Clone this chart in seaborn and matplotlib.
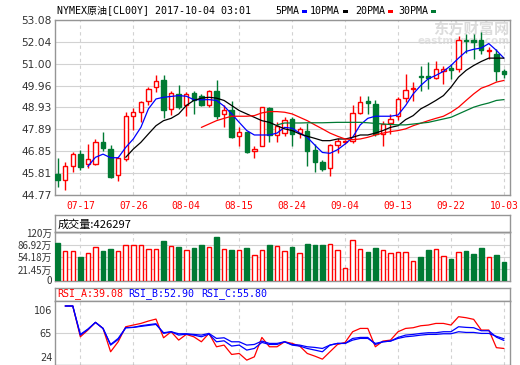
import numpy as np
import pandas as pd
import seaborn as sns
import matplotlib.pyplot as plt
from matplotlib.patches import Rectangle

# Données
dates = ["07-12", "07-13", "07-14", "07-17", "07-18", "07-19", "07-20", "07-21", "07-24", "07-25",
         "07-26", "07-27", "07-28", "07-31", "08-01", "08-02", "08-03", "08-04", "08-07", "08-08",
         "08-09", "08-10", "08-11", "08-14", "08-15", "08-16", "08-17", "08-18", "08-21", "08-22",
         "08-23", "08-24", "08-25", "08-28", "08-29", "08-30", "08-31", "09-01", "09-04", "09-05",
         "09-06", "09-07", "09-08", "09-11", "09-12", "09-13", "09-14", "09-15", "09-18", "09-19",
         "09-20", "09-21", "09-22", "09-25", "09-26", "09-27", "09-28", "09-29", "10-02", "10-03"]
tick_dates = ["07-17", "07-26", "08-04", "08-15", "08-24", "09-04", "09-13", "09-22", "10-03"]

opens = [45.76, 45.49, 46.13, 46.70, 46.22, 46.22, 47.27, 46.95, 45.70, 46.48,
         48.54, 48.73, 49.22, 49.89, 50.22, 48.84, 49.58, 49.02, 49.60, 49.48,
         49.06, 49.70, 48.60, 48.81, 47.56, 47.75, 46.86, 47.11, 48.89, 47.62,
         47.71, 48.38, 47.71, 47.79, 46.92, 46.35, 46.03, 47.14, 47.28, 47.35,
         48.67, 49.22, 49.10, 47.66, 48.18, 48.50, 49.37, 49.78, 50.42, 50.42,
         50.32, 50.66, 50.80, 50.76, 52.12, 52.13, 52.11, 51.60, 51.48, 50.65]
highs = [46.52, 46.32, 46.79, 46.92, 47.17, 47.43, 47.75, 47.14, 46.54, 48.70,
         48.89, 49.22, 49.89, 50.48, 50.45, 49.72, 49.97, 49.65, 49.73, 49.55,
         49.75, 50.22, 49.02, 49.21, 47.98, 47.78, 47.08, 48.96, 48.94, 48.26,
         48.46, 48.46, 47.98, 48.19, 47.19, 46.44, 47.19, 47.48, 47.40, 49.02,
         49.46, 49.46, 49.30, 48.30, 48.62, 49.41, 50.53, 50.13, 50.89, 51.10,
         51.11, 50.89, 51.00, 52.30, 52.40, 52.43, 52.50, 51.80, 51.69, 50.76]
lows = [45.16, 45.01, 45.84, 45.95, 46.05, 46.20, 46.86, 45.59, 45.44, 46.38,
        47.87, 48.25, 49.02, 49.65, 48.41, 48.55, 48.86, 48.54, 48.62, 48.99,
        48.94, 48.38, 47.98, 47.49, 47.08, 46.75, 46.51, 47.08, 47.27, 47.27,
        47.59, 47.08, 47.46, 46.16, 45.84, 45.92, 45.65, 46.76, 47.20, 47.22,
        48.62, 48.62, 47.56, 47.08, 47.67, 48.35, 49.18, 49.21, 49.73, 49.81,
        50.29, 50.05, 50.29, 50.61, 51.52, 51.24, 51.48, 51.24, 50.16, 50.32]
closes = [45.49, 46.13, 46.70, 46.08, 46.48, 47.27, 46.98, 45.62, 46.51, 48.54,
          48.73, 49.18, 49.78, 50.16, 48.83, 49.60, 48.95, 49.57, 49.28, 49.02,
          49.71, 48.54, 48.81, 47.53, 47.75, 46.83, 46.95, 48.94, 47.62, 48.04,
          48.35, 47.67, 47.91, 46.86, 46.35, 46.00, 47.14, 47.32, 47.32, 48.67,
          49.18, 49.16, 47.65, 48.12, 48.38, 49.34, 49.76, 49.84, 50.37, 50.32,
          50.76, 50.75, 50.72, 52.11, 52.08, 52.05, 51.64, 51.66, 50.64, 50.51]

nan = np.nan
ma5 = [nan] * 4 + [46.13, 46.56, 46.71, 46.54, 46.54, 47.03, 47.43, 47.98, 48.86, 49.33, 49.41,
                   49.45, 49.49, 49.46, 49.30, 49.29, 49.30, 49.26, 48.99, 48.62, 48.22, 47.83, 47.62, 47.62, 47.62, 47.71,
                   47.98, 47.94, 47.71, 47.51, 47.14, 46.79, 46.75, 46.92, 47.19, 47.51, 48.10, 48.41, 48.51, 48.51, 48.51,
                   48.57, 49.02, 49.57, 49.97, 50.29, 50.45, 50.64, 50.92, 51.27, 51.59, 51.69, 51.75, 51.96, 51.64, 51.27]
ma10 = [nan] * 9 + [46.56, 46.95, 47.27, 47.67, 48.06, 48.30,
                    48.41, 48.62, 49.02, 49.26, 49.37, 49.41, 49.37, 49.26, 49.02, 48.78, 48.62, 48.46, 48.30, 48.22, 48.06,
                    47.91, 47.83, 47.67, 47.56, 47.46, 47.35, 47.35, 47.43, 47.43, 47.51, 47.62, 47.62, 47.71, 47.83, 47.98,
                    48.06, 48.35, 48.54, 48.86, 49.05, 49.26, 49.49, 49.89, 50.37, 50.69, 50.92, 51.11, 51.27, 51.27, 51.27]
ma20 = [nan] * 19 + [47.98, 48.14, 48.30, 48.41, 48.51, 48.51, 48.51, 48.54, 48.67, 48.73, 48.73,
                     48.70, 48.62, 48.46, 48.30, 48.10, 47.91, 47.71, 47.56, 47.43, 47.40, 47.43, 47.51, 47.62, 47.71, 47.78,
                     47.83, 47.91, 48.06, 48.18, 48.30, 48.41, 48.51, 48.70, 48.94, 49.26, 49.57, 49.84, 49.97, 50.13, 50.21]
ma30 = [nan] * 29 + [48.10, 48.19, 48.19, 48.19, 48.20, 48.20, 48.20, 48.21, 48.22, 48.22, 48.22, 48.22, 48.20, 48.17, 48.14, 48.12,
                     48.10, 48.10, 48.14, 48.18, 48.22, 48.30, 48.38, 48.46, 48.62, 48.78, 48.94, 49.05, 49.14, 49.26, 49.30]

# Volume en 万
volumes = [92.2, 69.8, 69.8, 54.6, 65.4, 80.6, 70.7, 76.1, 69.8, 86.0,
           86.0, 86.0, 75.2, 75.2, 97.6, 84.2, 81.5, 72.5, 78.8, 86.9,
           80.6, 108.4, 75.2, 73.4, 73.4, 78.8, 60.0, 72.5, 86.9, 83.3,
           69.8, 81.5, 64.5, 89.6, 86.9, 86.9, 88.7, 72.5, 24.1, 99.4,
           75.2, 68.0, 78.8, 72.5, 65.4, 67.2, 67.2, 42.9, 54.6, 73.4,
           75.2, 56.4, 49.2, 67.2, 70.7, 63.6, 78.8, 53.7, 60.0, 42.6297]

rsi_a = [nan, 112.2, 112.2, 59.2, 70.8, 84.0, 73.6, 33.4, 50.6, 76.5, 79.4, 82.2, 86.3, 89.7, 57.5,
         67.9, 53.5, 63.3, 59.2, 50.6, 65.0, 42.0, 44.9, 28.8, 30.5, 19.0, 24.7,
         58.1, 42.0, 42.0, 50.6, 47.8, 43.2, 30.5, 25.9, 20.7, 33.4, 46.0, 49.5, 67.9, 73.6, 73.6,
         42.0, 51.8, 53.5, 67.9, 73.6, 74.8, 78.2, 79.4, 82.2, 82.2, 79.4, 93.8, 92.0, 89.2, 70.8, 70.8, 40.5, 39.08]
rsi_b = [nan, 112.2, 112.2, 62.1, 71.9, 84.0, 73.6, 44.9, 54.6, 74.8, 75.4, 78.2, 80.0, 81.7, 65.0,
         67.9, 62.1, 63.8, 62.1, 59.2, 63.8, 50.6, 52.3, 43.2, 44.9, 36.3, 39.1,
         49.5, 46.0, 46.0, 50.6, 44.9, 43.2, 39.1, 36.3, 33.4, 44.9, 47.8, 47.8, 56.4, 58.1, 58.1,
         46.0, 50.6, 51.8, 58.1, 62.1, 63.3, 65.0, 66.2, 66.2, 67.9, 67.9, 76.5, 75.4, 74.8, 69.6, 69.6, 58.5, 52.90]
rsi_c = [nan, 112.2, 112.2, 63.3, 72.5, 84.0, 73.6, 46.0, 56.4, 74.8, 75.4, 77.1, 78.8, 80.5, 66.2,
         67.9, 64.4, 64.4, 63.3, 62.1, 65.0, 56.4, 57.5, 50.6, 50.6, 44.9, 46.0,
         51.8, 47.8, 47.8, 50.6, 46.0, 44.9, 42.0, 40.9, 39.1, 44.9, 47.8, 47.8, 53.5, 56.4, 56.4,
         47.8, 50.6, 51.8, 56.4, 59.2, 60.4, 62.1, 63.3, 63.3, 64.4, 64.4, 67.9, 66.7, 66.7, 65.0, 65.0, 60.0, 55.80]

price_ticks = [44.77, 45.81, 46.85, 47.89, 48.93, 49.96, 51.00, 52.04, 53.08]
vol_ticks = [21.45, 54.18, 86.92, 120]
vol_labels = ["21.45万", "54.18万", "86.92万", "120万"]
rsi_ticks = [24, 65, 106]

title = "NYMEX原油[CL00Y] 2017-10-04 03:01"
ma_names = ["5PMA", "10PMA", "20PMA", "30PMA"]

# Couleurs
RED = "#ff0000"
GREEN = "#007a33"
BLUE = "#0000ff"
GRID = "#d2d2d2"
SPINE = "#959595"
TXT = "#333333"
ma_colors = [BLUE, "black", RED, GREEN]

sns.set_style("white")
plt.rcParams["font.family"] = ["DejaVu Sans", "Noto Sans CJK SC"]
MONO = ["DejaVu Sans Mono", "Noto Sans CJK SC"]

W, H = 520, 365
fig = plt.figure(figsize=(W / 100, H / 100), dpi=100)


def box(l, t, r, b):
    return [l / W, 1 - b / H, (r - l) / W, (b - t) / H]


df = pd.DataFrame({"date": dates, "open": opens, "high": highs, "low": lows,
                   "close": closes, "vol": volumes,
                   "ma5": ma5, "ma10": ma10, "ma20": ma20, "ma30": ma30,
                   "rsi_a": rsi_a, "rsi_b": rsi_b, "rsi_c": rsi_c})
df["x"] = np.arange(len(df))
up = df["close"] >= df["open"]
tick_pos = [dates.index(d) for d in tick_dates]
XLIM = (-0.35, len(df) - 0.2)
VOL_MIN, VOL_MAX = -8.1, 121.8

ax = fig.add_axes(box(55, 20, 510, 195))
ax_vh = fig.add_axes(box(55, 215, 510, 232))
ax_vol = fig.add_axes(box(55, 232, 510, 280.5))
ax_rh = fig.add_axes(box(55, 288, 510, 301))
ax_rsi = fig.add_axes(box(55, 301, 510, 364.5))

for a in [ax, ax_vh, ax_vol, ax_rh, ax_rsi]:
    a.set_xlim(*XLIM)
    for s in a.spines.values():
        s.set_color(SPINE)
        s.set_linewidth(1)
    a.tick_params(length=0)
for a in [ax_vh, ax_rh]:
    a.set_xticks([])
    a.set_yticks([])

# Graphique principal : chandeliers
colors = np.where(up, RED, GREEN)
ax.vlines(df["x"], df["low"], df["high"], colors=colors, lw=1, zorder=3)
body_bottom = df[["open", "close"]].min(axis=1)
body_h = (df["close"] - df["open"]).abs().clip(lower=0.03)
ax.bar(df["x"][up], body_h[up], bottom=body_bottom[up], width=0.58,
       facecolor="white", edgecolor=RED, lw=1, zorder=4)
ax.bar(df["x"][~up], body_h[~up], bottom=body_bottom[~up], width=0.58,
       facecolor=GREEN, edgecolor=GREEN, lw=1, zorder=4)

for col, c in zip(["ma5", "ma10", "ma20", "ma30"], ma_colors):
    sns.lineplot(data=df, x="x", y=col, ax=ax, color=c, lw=0.9, errorbar=None, zorder=5)

ax.set_ylim(price_ticks[0], price_ticks[-1])
ax.set_yticks(price_ticks)
ax.set_yticklabels([f"{v:.2f}" for v in price_ticks], fontsize=7.7, color=TXT)
ax.set_xticks(tick_pos)
ax.set_xticklabels(tick_dates, fontsize=6.9, color=RED, family=MONO)
ax.tick_params(axis="x", pad=4)
ax.tick_params(axis="y", pad=2.5)
ax.yaxis.grid(True, color=GRID, lw=0.8, ls="-")
ax.xaxis.grid(True, color=GRID, lw=0.8, ls=(0, (3, 3)))
ax.set_axisbelow(True)
ax.set_xlabel("")
ax.set_ylabel("")

ax.text(0.914, 0.949, "东方财富网", transform=ax.transAxes, fontsize=11, weight="bold",
        color="#dcdcdc", family="Noto Sans CJK SC", ha="center", va="center", zorder=0.5)
ax.text(0.897, 0.882, "eastmoney.com", transform=ax.transAxes, fontsize=7.5, weight="bold",
        color="#e2e2e2", ha="center", va="center", zorder=0.5)

# Titre et légende
fig.text(57 / W, 1 - 10.5 / H, title, fontsize=7.2, family=MONO, color="black", va="center")
leg_x = [275, 310, 355, 398]
for name, c, lx in zip(ma_names, ma_colors, leg_x):
    fig.text(lx / W, 1 - 10.5 / H, name, fontsize=7.2, family=MONO, color="black", va="center")
    mx = lx + len(name) * 6 + 3
    fig.add_artist(Rectangle((mx / W, 1 - 12.5 / H), 5 / W, 3 / H,
                             transform=fig.transFigure, color=c, lw=0))

# Volume
ax_vh.text(0.005, 0.45, f"成交量:{int(round(volumes[-1] * 10000))}", transform=ax_vh.transAxes,
           fontsize=8, family="Noto Sans CJK SC", color="black", va="center", ha="left")
ax_vol.bar(df["x"][up], df["vol"][up] - VOL_MIN, bottom=VOL_MIN, width=0.6,
           facecolor="white", edgecolor=RED, lw=1, zorder=3)
ax_vol.bar(df["x"][~up], df["vol"][~up] - VOL_MIN, bottom=VOL_MIN, width=0.6,
           facecolor=GREEN, edgecolor=GREEN, lw=1, zorder=3)
ax_vol.set_ylim(VOL_MIN, VOL_MAX)
ax_vol.set_yticks([VOL_MIN] + vol_ticks)
ax_vol.set_yticklabels(["0"] + vol_labels, fontsize=7, family="Noto Sans CJK SC", color=TXT)
ax_vol.tick_params(axis="y", pad=2)
ax_vol.set_xticks(tick_pos)
ax_vol.set_xticklabels([])
for v in vol_ticks:
    ax_vol.axhline(v, color=GRID, lw=0.8, zorder=1)
ax_vol.xaxis.grid(True, color=GRID, lw=0.8, ls=(0, (3, 3)))
ax_vol.set_axisbelow(True)

# RSI
rsi_last = [("RSI_A", rsi_a[-1], RED, 57), ("RSI_B", rsi_b[-1], BLUE, 128), ("RSI_C", rsi_c[-1], BLUE, 201)]
for name, val, c, lx in rsi_last:
    fig.text(lx / W, 1 - 294 / H, f"{name}:{val:.2f}", fontsize=7.2, family=MONO, color=c, va="center")

sns.lineplot(data=df, x="x", y="rsi_a", ax=ax_rsi, color=RED, lw=0.9, errorbar=None, zorder=4)
sns.lineplot(data=df, x="x", y="rsi_b", ax=ax_rsi, color=BLUE, lw=0.9, errorbar=None, zorder=4)
sns.lineplot(data=df, x="x", y="rsi_c", ax=ax_rsi, color=BLUE, lw=0.9, errorbar=None, zorder=4)
ax_rsi.set_ylim(11.5, 120.8)
ax_rsi.set_xlim(*XLIM)
ax_rsi.set_yticks(rsi_ticks)
ax_rsi.set_yticklabels([str(v) for v in rsi_ticks], fontsize=7, color=TXT)
ax_rsi.tick_params(axis="y", pad=2)
ax_rsi.set_xticks(tick_pos)
ax_rsi.set_xticklabels([])
ax_rsi.axhline(65, color=GRID, lw=0.8, zorder=1)
ax_rsi.xaxis.grid(True, color=GRID, lw=0.8, ls=(0, (3, 3)))
ax_rsi.set_axisbelow(True)
ax_rsi.set_xlabel("")
ax_rsi.set_ylabel("")

fig.savefig("out.png", dpi=100)
plt.close()
